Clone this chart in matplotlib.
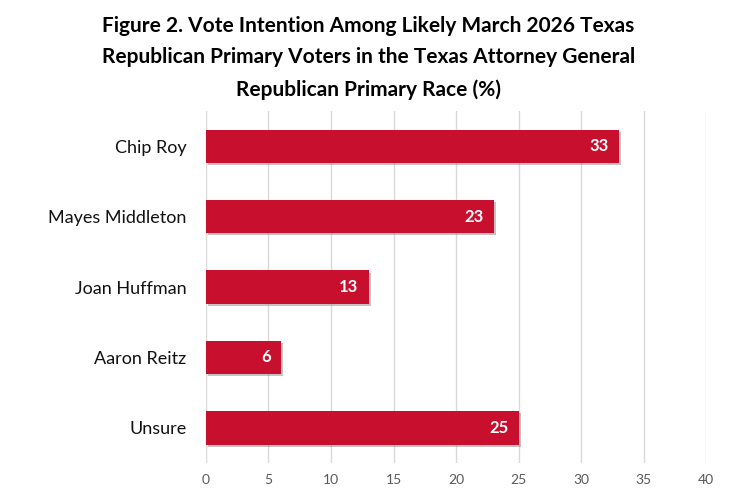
import matplotlib
matplotlib.use("Agg")
import matplotlib.pyplot as plt
import matplotlib.patheffects as pe

# Data
candidates = ["Chip Roy", "Mayes Middleton", "Joan Huffman", "Aaron Reitz", "Unsure"]
shares = [33, 23, 13, 6, 25]
x_ticks = [0, 5, 10, 15, 20, 25, 30, 35, 40]

title = ("Figure 2. Vote Intention Among Likely March 2026 Texas\n"
         "Republican Primary Voters in the Texas Attorney General\n"
         "Republican Primary Race (%)")

plt.rcParams["font.family"] = ["Lato", "DejaVu Sans"]

fig = plt.figure(figsize=(7.37, 5.04), dpi=100)
ax = fig.add_axes([0.2795, 0.081, 0.6785, 0.699])

ypos = list(range(len(candidates)))
bars = ax.barh(ypos, shares, height=0.47, color="#C8102E", zorder=3)
for b in bars:
    b.set_path_effects([pe.SimplePatchShadow(offset=(1.5, -1.5), shadow_rgbFace="#888888", alpha=0.5),
                        pe.Normal()])

for y, v in zip(ypos, shares):
    ax.text(v - 0.8, y, str(v), ha="right", va="center", color="white",
            fontsize=12, fontweight="bold", zorder=4)

ax.set_ylim(len(candidates) - 0.5, -0.5)
ax.set_xlim(0, 40)
ax.set_xticks(x_ticks)
ax.set_yticks(ypos)
ax.set_yticklabels(candidates, fontsize=13, color="#111111")
ax.tick_params(axis="x", labelsize=10, colors="#595959", length=0, pad=8)
ax.tick_params(axis="y", length=0, pad=14)

ax.grid(axis="x", color="#D9D9D9", linewidth=1, zorder=0)
for s in ax.spines.values():
    s.set_visible(False)

fig.text(0.5, 0.968, title, ha="center", va="top", fontsize=15,
         fontweight="bold", linespacing=1.7, color="#000000")

fig.savefig("out.png", dpi=100)
